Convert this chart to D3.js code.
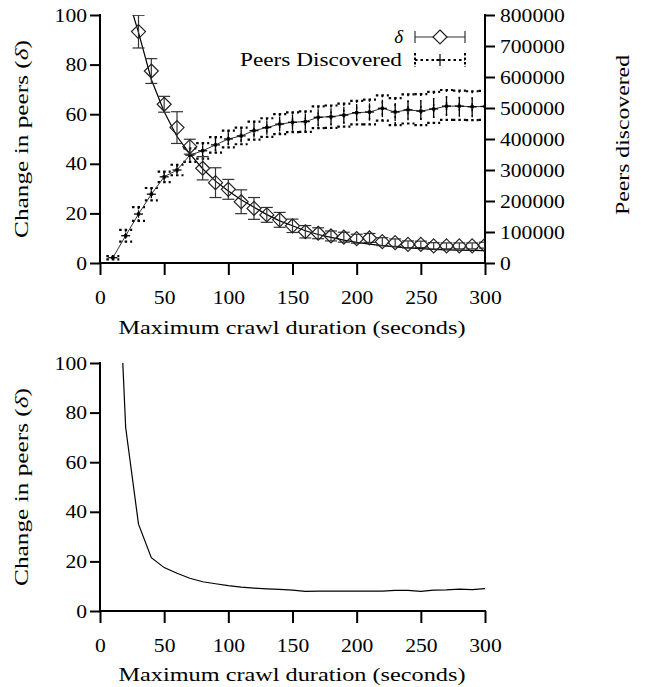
<!DOCTYPE html>
<html>
<head>
<meta charset="utf-8">
<script src="https://cdnjs.cloudflare.com/ajax/libs/d3/7.8.5/d3.min.js"></script>
<style>
	body { margin: 0; background: #fff; }
	text { font-family: "Liberation Serif", "DejaVu Serif", serif; font-size: 19px; fill: #000; }
	.axis path { display: none; }
	.axis line { stroke: #000; stroke-width: 2; }
</style>
</head>
<body>
<svg id="chart" width="645" height="687"></svg>
<script>
// x ticks shared by both panels
var xTicks = [0, 50, 100, 150, 200, 250, 300];
var deltaTicks = [0, 20, 40, 60, 80, 100];
var peersTicks = [0, 100000, 200000, 300000, 400000, 500000, 600000, 700000, 800000];

// top panel: change in peers (delta) with error bars
var deltaX = [30, 40, 50, 60, 70, 80, 90, 100, 110, 120, 130, 140, 150, 160, 170, 180, 190, 200, 210, 220, 230, 240, 250, 260, 270, 280, 290, 300];
var deltaY = [93.3, 77.4, 64, 54.6, 46.9, 38.2, 32.4, 29.7, 24.7, 22, 19.4, 17.4, 15, 12.6, 12, 10.9, 10.4, 9.8, 10.1, 8.6, 8.2, 7.5, 7.5, 6.9, 6.9, 6.9, 6.9, 7.2];
var deltaErr = [6.6, 5, 3.2, 6.4, 3, 4.7, 6, 4, 4.8, 4.4, 3, 3, 2.7, 2.5, 2.2, 2, 2, 1.8, 1.8, 1.6, 1.5, 1.4, 1.3, 1.3, 1.2, 1.2, 1.2, 1.2];

// thin curve drawn under the delta points
var deltaLineX = [20, 30, 40, 50, 60, 70, 80, 90, 100, 110, 120, 130, 140, 150, 160, 170, 180, 190, 200, 210, 220, 230, 240, 250, 260, 270, 280, 290, 300];
var deltaLineY = [110, 93, 74, 61, 51, 44, 38, 33, 29, 25.5, 22.5, 19.5, 17, 15, 13, 11.5, 10.3, 9.2, 8.3, 7.6, 7, 6.5, 6.1, 5.8, 5.5, 5.3, 5.2, 5.1, 5.0];

// top panel: peers discovered (right axis)
var peersX = [10, 20, 30, 40, 50, 60, 70, 80, 90, 100, 110, 120, 130, 140, 150, 160, 170, 180, 190, 200, 210, 220, 230, 240, 250, 260, 270, 280, 290, 300];
var peersMean = [17000, 88000, 158000, 222000, 278000, 300000, 348000, 362000, 381000, 400000, 410000, 427000, 437000, 448000, 454000, 456000, 470000, 472000, 477000, 485000, 487000, 499000, 487000, 494000, 490000, 497000, 506000, 506000, 504000, 505000];
var peersErr = [4000, 10000, 12000, 13000, 13000, 14000, 16000, 18000, 19000, 20000, 21000, 22000, 23000, 24000, 25000, 25000, 26000, 27000, 27000, 28000, 28000, 28000, 29000, 29000, 29000, 29000, 29000, 29000, 29000, 29000];
var peersMax = [22000, 107000, 180000, 242000, 295000, 317000, 370000, 387000, 406000, 427000, 437000, 456000, 467000, 480000, 486000, 489000, 505000, 508000, 514000, 523000, 527000, 541000, 532000, 544000, 545000, 552000, 558000, 556000, 554000, 555000];
var peersMin = [12000, 69000, 136000, 202000, 261000, 283000, 326000, 337000, 356000, 373000, 383000, 398000, 407000, 416000, 422000, 423000, 435000, 436000, 440000, 447000, 447000, 459000, 445000, 450000, 445000, 452000, 462000, 462000, 461000, 462000];

// bottom panel
var bottomX = [10, 20, 30, 40, 50, 60, 70, 80, 90, 100, 110, 120, 130, 140, 150, 160, 170, 180, 190, 200, 210, 220, 230, 240, 250, 260, 270, 280, 290, 300];
var bottomY = [190, 74, 35, 21.5, 17.5, 15.2, 13.2, 11.8, 11, 10.2, 9.6, 9.2, 8.9, 8.7, 8.4, 7.9, 8, 8, 8, 8, 8, 8, 8.3, 8.3, 7.9, 8.4, 8.5, 8.8, 8.6, 9];

(function() {
	'use strict';

	var svg = d3.select('#chart');
	var left = 100, right = 485;
	var digitW = 10.8; // the original type is set wide

	var x = d3.scaleLinear().domain([0, 300]).range([left, right]);
	var yTop = d3.scaleLinear().domain([0, 100]).range([263, 15]);
	var yPeers = d3.scaleLinear().domain([0, 800000]).range([263, 15]);
	var yBot = d3.scaleLinear().domain([0, 100]).range([611, 363]);

	var defs = svg.append('defs');
	defs.append('clipPath').attr('id', 'clipTop').append('rect')
		.attr('x', left).attr('y', 15).attr('width', right - left).attr('height', 248);
	defs.append('clipPath').attr('id', 'clipBot').append('rect')
		.attr('x', left).attr('y', 363).attr('width', right - left).attr('height', 248);

	function widen(g) {
		g.selectAll('text').each(function() {
			var t = d3.select(this);
			t.attr('textLength', t.text().length * digitW).attr('lengthAdjust', 'spacingAndGlyphs');
		});
	}

	function frame(yScale, ticks, bottomY0, topY0, withRight) {
		svg.append('g').attr('class', 'axis')
			.attr('transform', 'translate(0,' + bottomY0 + ')')
			.call(d3.axisBottom(x).tickValues(xTicks).tickSize(12).tickSizeOuter(0).tickPadding(16))
			.call(widen);
		svg.append('g').attr('class', 'axis')
			.attr('transform', 'translate(' + left + ',0)')
			.call(d3.axisLeft(yScale).tickValues(ticks).tickSize(10).tickSizeOuter(0).tickPadding(3))
			.call(widen);
		svg.append('line').attr('x1', left).attr('x2', left).attr('y1', topY0).attr('y2', bottomY0 + 1)
			.attr('stroke', '#000').attr('stroke-width', 2);
		svg.append('line').attr('x1', left - 1).attr('x2', right + 1).attr('y1', bottomY0).attr('y2', bottomY0)
			.attr('stroke', '#000').attr('stroke-width', 2);
		if (withRight) {
			svg.append('line').attr('x1', right).attr('x2', right).attr('y1', topY0).attr('y2', bottomY0 + 1)
				.attr('stroke', '#000').attr('stroke-width', 2);
		}
	}

	function label(text, tx, ty, len, rot) {
		var t = svg.append('text')
			.attr('transform', 'translate(' + tx + ',' + ty + ')' + (rot ? ' rotate(-90)' : ''))
			.attr('text-anchor', 'middle')
			.attr('textLength', len).attr('lengthAdjust', 'spacingAndGlyphs');
		return t.text(text);
	}

	function deltaLabel(tx, ty) {
		var t = svg.append('text')
			.attr('transform', 'translate(' + tx + ',' + ty + ') rotate(-90)')
			.attr('text-anchor', 'middle')
			.attr('textLength', 198).attr('lengthAdjust', 'spacingAndGlyphs');
		t.append('tspan').text('Change in peers (');
		t.append('tspan').style('font-style', 'italic').text('δ');
		t.append('tspan').text(')');
	}

	// ---------- top panel ----------
	frame(yTop, deltaTicks, 263, 14, true);
	svg.append('g').attr('class', 'axis')
		.attr('transform', 'translate(' + right + ',0)')
		.call(d3.axisRight(yPeers).tickValues(peersTicks).tickSize(10).tickSizeOuter(0).tickPadding(5)
			.tickFormat(d3.format('d')))
		.call(widen);

	var topG = svg.append('g').attr('clip-path', 'url(#clipTop)');

	// peers: dotted min/max bars
	var peers = peersX.map(function(d, i) {
		return { x: d, m: peersMean[i], e: peersErr[i], lo: peersMin[i], hi: peersMax[i] };
	});

	var pg = topG.append('g');
	peers.forEach(function(d) {
		var cx = x(d.x);
		[d.lo, d.hi].forEach(function(v) {
			pg.append('line').attr('x1', cx - 6.5).attr('x2', cx + 6.5)
				.attr('y1', yPeers(v)).attr('y2', yPeers(v))
				.attr('stroke', '#000').attr('stroke-width', 2.2)
				.attr('stroke-dasharray', '2.5,3');
		});
		pg.append('line').attr('x1', cx).attr('x2', cx)
			.attr('y1', yPeers(d.hi)).attr('y2', yPeers(d.lo))
			.attr('stroke', '#000').attr('stroke-width', 1.5).attr('stroke-dasharray', '2,4');
	});
	pg.append('path').datum(peers)
		.attr('d', d3.line().x(function(d) { return x(d.x); }).y(function(d) { return yPeers(d.m); }))
		.attr('fill', 'none').attr('stroke', '#333').attr('stroke-width', 1);
	peers.forEach(function(d) {
		var cx = x(d.x), cy = yPeers(d.m);
		pg.append('line').attr('x1', cx).attr('x2', cx)
			.attr('y1', yPeers(d.m + d.e)).attr('y2', yPeers(d.m - d.e))
			.attr('stroke', '#000').attr('stroke-width', 1.3);
		pg.append('line').attr('x1', cx - 4.5).attr('x2', cx + 4.5).attr('y1', cy).attr('y2', cy)
			.attr('stroke', '#000').attr('stroke-width', 1.3);
		pg.append('rect').attr('x', cx - 1.6).attr('y', cy - 1.6).attr('width', 3.2).attr('height', 3.2).attr('fill', '#000');
	});

	// delta curve, error bars and diamonds
	var dl = deltaLineX.map(function(d, i) { return { x: d, y: deltaLineY[i] }; });
	topG.append('path').datum(dl)
		.attr('d', d3.line().x(function(d) { return x(d.x); }).y(function(d) { return yTop(d.y); }))
		.attr('fill', 'none').attr('stroke', '#000').attr('stroke-width', 1.2);

	var delta = deltaX.map(function(d, i) { return { x: d, y: deltaY[i], e: deltaErr[i] }; });
	var dg = topG.append('g');
	delta.forEach(function(d) {
		var cx = x(d.x);
		var y1 = yTop(d.y + d.e), y2 = yTop(d.y - d.e);
		dg.append('line').attr('x1', cx).attr('x2', cx).attr('y1', y1).attr('y2', y2)
			.attr('stroke', '#333').attr('stroke-width', 1.2);
		[y1, y2].forEach(function(yy) {
			dg.append('line').attr('x1', cx - 6).attr('x2', cx + 6).attr('y1', yy).attr('y2', yy)
				.attr('stroke', '#333').attr('stroke-width', 1.2);
		});
	});
	var diamond = function(cx, cy, r) {
		return 'M' + cx + ',' + (cy - r) + 'L' + (cx + r) + ',' + cy + 'L' + cx + ',' + (cy + r) + 'L' + (cx - r) + ',' + cy + 'Z';
	};
	dg.selectAll('path.dia').data(delta).enter().append('path')
		.attr('class', 'dia')
		.attr('d', function(d) { return diamond(x(d.x), yTop(d.y), 7); })
		.attr('fill', 'none').attr('stroke', '#222').attr('stroke-width', 1.2);

	// legend
	var lg = svg.append('g');
	lg.append('text').attr('x', 403).attr('y', 43).attr('text-anchor', 'end')
		.style('font-style', 'italic').text('δ');
	lg.append('line').attr('x1', 415).attr('x2', 465).attr('y1', 37).attr('y2', 37).attr('stroke', '#333').attr('stroke-width', 1.2);
	[415, 465].forEach(function(xx) {
		lg.append('line').attr('x1', xx).attr('x2', xx).attr('y1', 31).attr('y2', 43).attr('stroke', '#333').attr('stroke-width', 1.2);
	});
	lg.append('path').attr('d', diamond(440, 37, 7)).attr('fill', '#fff').attr('stroke', '#222').attr('stroke-width', 1.2);

	lg.append('text').attr('x', 402).attr('y', 66).attr('text-anchor', 'end')
		.attr('textLength', 162).attr('lengthAdjust', 'spacingAndGlyphs').text('Peers Discovered');
	lg.append('line').attr('x1', 415).attr('x2', 465).attr('y1', 60).attr('y2', 60)
		.attr('stroke', '#000').attr('stroke-width', 2).attr('stroke-dasharray', '2.5,3');
	[415, 465].forEach(function(xx) {
		lg.append('line').attr('x1', xx).attr('x2', xx).attr('y1', 53).attr('y2', 67)
			.attr('stroke', '#000').attr('stroke-width', 2).attr('stroke-dasharray', '2.5,2');
	});
	lg.append('line').attr('x1', 440).attr('x2', 440).attr('y1', 54).attr('y2', 66).attr('stroke', '#000').attr('stroke-width', 1.2);
	lg.append('line').attr('x1', 436).attr('x2', 444).attr('y1', 60).attr('y2', 60).attr('stroke', '#000').attr('stroke-width', 1.2);

	// axis titles
	label('Maximum crawl duration (seconds)', 292, 334, 347, false);
	deltaLabel(28, 139);
	label('Peers discovered', 629, 135, 160, true);

	// ---------- bottom panel ----------
	frame(yBot, deltaTicks, 611, 362, false);
	var bot = bottomX.map(function(d, i) { return { x: d, y: bottomY[i] }; });
	svg.append('g').attr('clip-path', 'url(#clipBot)')
		.append('path').datum(bot)
		.attr('d', d3.line().x(function(d) { return x(d.x); }).y(function(d) { return yBot(d.y); }))
		.attr('fill', 'none').attr('stroke', '#000').attr('stroke-width', 1.2);

	label('Maximum crawl duration (seconds)', 292, 681, 347, false);
	deltaLabel(28, 487);
})();
</script>
</body>
</html>
